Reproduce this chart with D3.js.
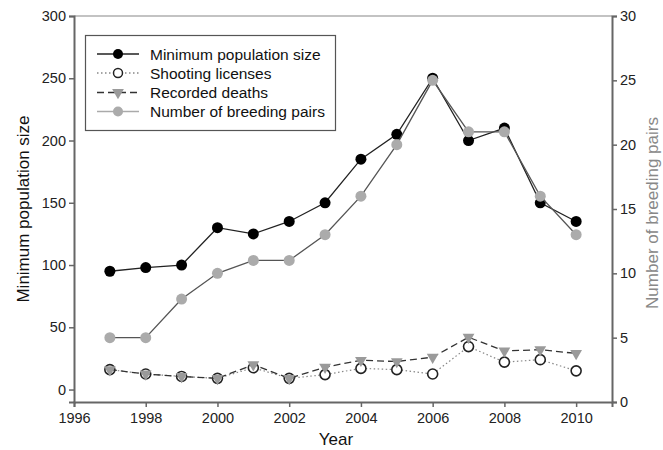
<!DOCTYPE html>
<html>
<head>
<meta charset="utf-8">
<script src="https://cdn.jsdelivr.net/npm/d3@7"></script>
<style>
  html, body { margin: 0; padding: 0; background: #fff; }
  svg { display: block; font-family: "Liberation Sans", Arial, sans-serif; }
</style>
</head>
<body>
<svg id="chart" width="663" height="450"></svg>
<script>
// Survey years
const years = [1997, 1998, 1999, 2000, 2001, 2002, 2003, 2004, 2005, 2006, 2007, 2008, 2009, 2010];

// Left-axis series
const minPopulation = [95, 98, 100, 130, 125, 135, 150, 185, 205, 250, 200, 210, 150, 135];
const shootingLicenses = [16, 12.5, 10.5, 9, 17.5, 9, 12, 17, 16, 12.5, 34.5, 22, 24, 15];
const recordedDeaths = [16, 12.5, 10.5, 9, 20, 9, 18, 23.5, 22.5, 26, 42, 31, 32, 29];

// Right-axis series
const breedingPairs = [5, 5, 8, 10, 11, 11, 13, 16, 20, 25, 21, 21, 16, 13];

// Axis ticks
const xTicks = [1996, 1998, 2000, 2002, 2004, 2006, 2008, 2010];
const yLeftTicks = [0, 50, 100, 150, 200, 250, 300];
const yRightTicks = [0, 5, 10, 15, 20, 25, 30];

const legendLabels = ["Minimum population size", "Shooting licenses", "Recorded deaths", "Number of breeding pairs"];

const svg = d3.select("#chart");
const plot = { left: 74, right: 612, top: 16, bottom: 402 };

const x = d3.scaleLinear().domain([1996, 2011]).range([plot.left, plot.right]);
const yL = d3.scaleLinear().domain([-10, 300]).range([plot.bottom, plot.top]);
const yR = d3.scaleLinear().domain([0, 30]).range([plot.bottom, plot.top]);

const axisColor = "#666";

// Frame top edge
svg.append("line").attr("x1", plot.left).attr("x2", plot.right).attr("y1", plot.top).attr("y2", plot.top)
  .attr("stroke", "#888").attr("stroke-width", 1.2);

function styleAxis(g) {
  g.selectAll(".domain").attr("stroke", axisColor).attr("stroke-width", 2);
  g.selectAll(".tick line").attr("stroke", axisColor).attr("stroke-width", 1.5);
  g.selectAll(".tick text").attr("fill", "#222").style("font-size", "14.5px");
}

const gx = svg.append("g").attr("transform", `translate(0,${plot.bottom})`)
  .call(d3.axisBottom(x).tickValues(xTicks).tickFormat(d3.format("d")).tickSizeOuter(0).tickSize(5).tickPadding(6));
styleAxis(gx);

const gl = svg.append("g").attr("transform", `translate(${plot.left},0)`)
  .call(d3.axisLeft(yL).tickValues(yLeftTicks).tickSizeOuter(0).tickSize(5).tickPadding(3));
styleAxis(gl);

const gr = svg.append("g").attr("transform", `translate(${plot.right},0)`)
  .call(d3.axisRight(yR).tickValues(yRightTicks).tickSizeOuter(0).tickSize(5).tickPadding(3));
styleAxis(gr);

// Axis titles
const midY = (plot.top + plot.bottom) / 2;
svg.append("text").attr("x", 336).attr("y", 445).attr("text-anchor", "middle")
  .style("font-size", "17px").attr("fill", "#111").text("Year");
svg.append("text").attr("transform", `translate(29,${midY}) rotate(-90)`)
  .attr("text-anchor", "middle").style("font-size", "17px").attr("fill", "#111").text("Minimum population size");
svg.append("text").attr("transform", `translate(658,${midY + 4}) rotate(-90)`)
  .attr("text-anchor", "middle").style("font-size", "17px").attr("fill", "#888").text("Number of breeding pairs");

const pts = (vals, scale) => years.map((yr, i) => [x(yr), scale(vals[i])]);
const line = d3.line();
const tri = d3.symbol().type(d3.symbolTriangle).size(60);

// Shooting licenses
svg.append("path").attr("d", line(pts(shootingLicenses, yL)))
  .attr("fill", "none").attr("stroke", "#888").attr("stroke-width", 1.2).attr("stroke-dasharray", "1.5,2.5");
svg.append("g").selectAll("circle").data(pts(shootingLicenses, yL)).join("circle")
  .attr("cx", d => d[0]).attr("cy", d => d[1]).attr("r", 5)
  .attr("fill", "#fff").attr("stroke", "#222").attr("stroke-width", 1.6);

// Recorded deaths
svg.append("path").attr("d", line(pts(recordedDeaths, yL)))
  .attr("fill", "none").attr("stroke", "#333").attr("stroke-width", 1.3).attr("stroke-dasharray", "7,4");
svg.append("g").selectAll("path").data(pts(recordedDeaths, yL)).join("path")
  .attr("d", tri).attr("transform", d => `translate(${d[0]},${d[1]}) rotate(180)`)
  .attr("fill", "#9a9a9a");

// Minimum population size
svg.append("path").attr("d", line(pts(minPopulation, yL)))
  .attr("fill", "none").attr("stroke", "#222").attr("stroke-width", 1.3);
svg.append("g").selectAll("circle").data(pts(minPopulation, yL)).join("circle")
  .attr("cx", d => d[0]).attr("cy", d => d[1]).attr("r", 5.5).attr("fill", "#000");

// Number of breeding pairs
svg.append("path").attr("d", line(pts(breedingPairs, yR)))
  .attr("fill", "none").attr("stroke", "#555").attr("stroke-width", 1.3);
svg.append("g").selectAll("circle").data(pts(breedingPairs, yR)).join("circle")
  .attr("cx", d => d[0]).attr("cy", d => d[1]).attr("r", 5.5).attr("fill", "#ababab");

// Legend
const lg = svg.append("g");
lg.append("rect").attr("x", 85.5).attr("y", 35.5).attr("width", 250).attr("height", 95)
  .attr("fill", "#fff").attr("stroke", "#555").attr("stroke-width", 1.2);
const rowY = [54, 73, 92.5, 111.5];
const lx1 = 97, lx2 = 139, lmx = 118;
const styles = [
  { stroke: "#222", dash: null, mark: "dot", fill: "#000" },
  { stroke: "#888", dash: "1.5,2.5", mark: "open", fill: "#fff" },
  { stroke: "#333", dash: "7,4", mark: "tri", fill: "#9a9a9a" },
  { stroke: "#aaa", dash: null, mark: "dot", fill: "#ababab" }
];
legendLabels.forEach((lab, i) => {
  const s = styles[i], yy = rowY[i];
  lg.append("line").attr("x1", lx1).attr("x2", lx2).attr("y1", yy).attr("y2", yy)
    .attr("stroke", s.stroke).attr("stroke-width", 1.3).attr("stroke-dasharray", s.dash);
  if (s.mark === "dot") {
    lg.append("circle").attr("cx", lmx).attr("cy", yy).attr("r", 5).attr("fill", s.fill);
  } else if (s.mark === "open") {
    lg.append("circle").attr("cx", lmx).attr("cy", yy).attr("r", 4.5)
      .attr("fill", "#fff").attr("stroke", "#222").attr("stroke-width", 1.5);
  } else {
    lg.append("path").attr("d", tri).attr("transform", `translate(${lmx},${yy}) rotate(180)`).attr("fill", s.fill);
  }
  lg.append("text").attr("x", 150).attr("y", yy + 5.5).style("font-size", "15.5px").attr("fill", "#111").text(lab);
});
</script>
</body>
</html>
